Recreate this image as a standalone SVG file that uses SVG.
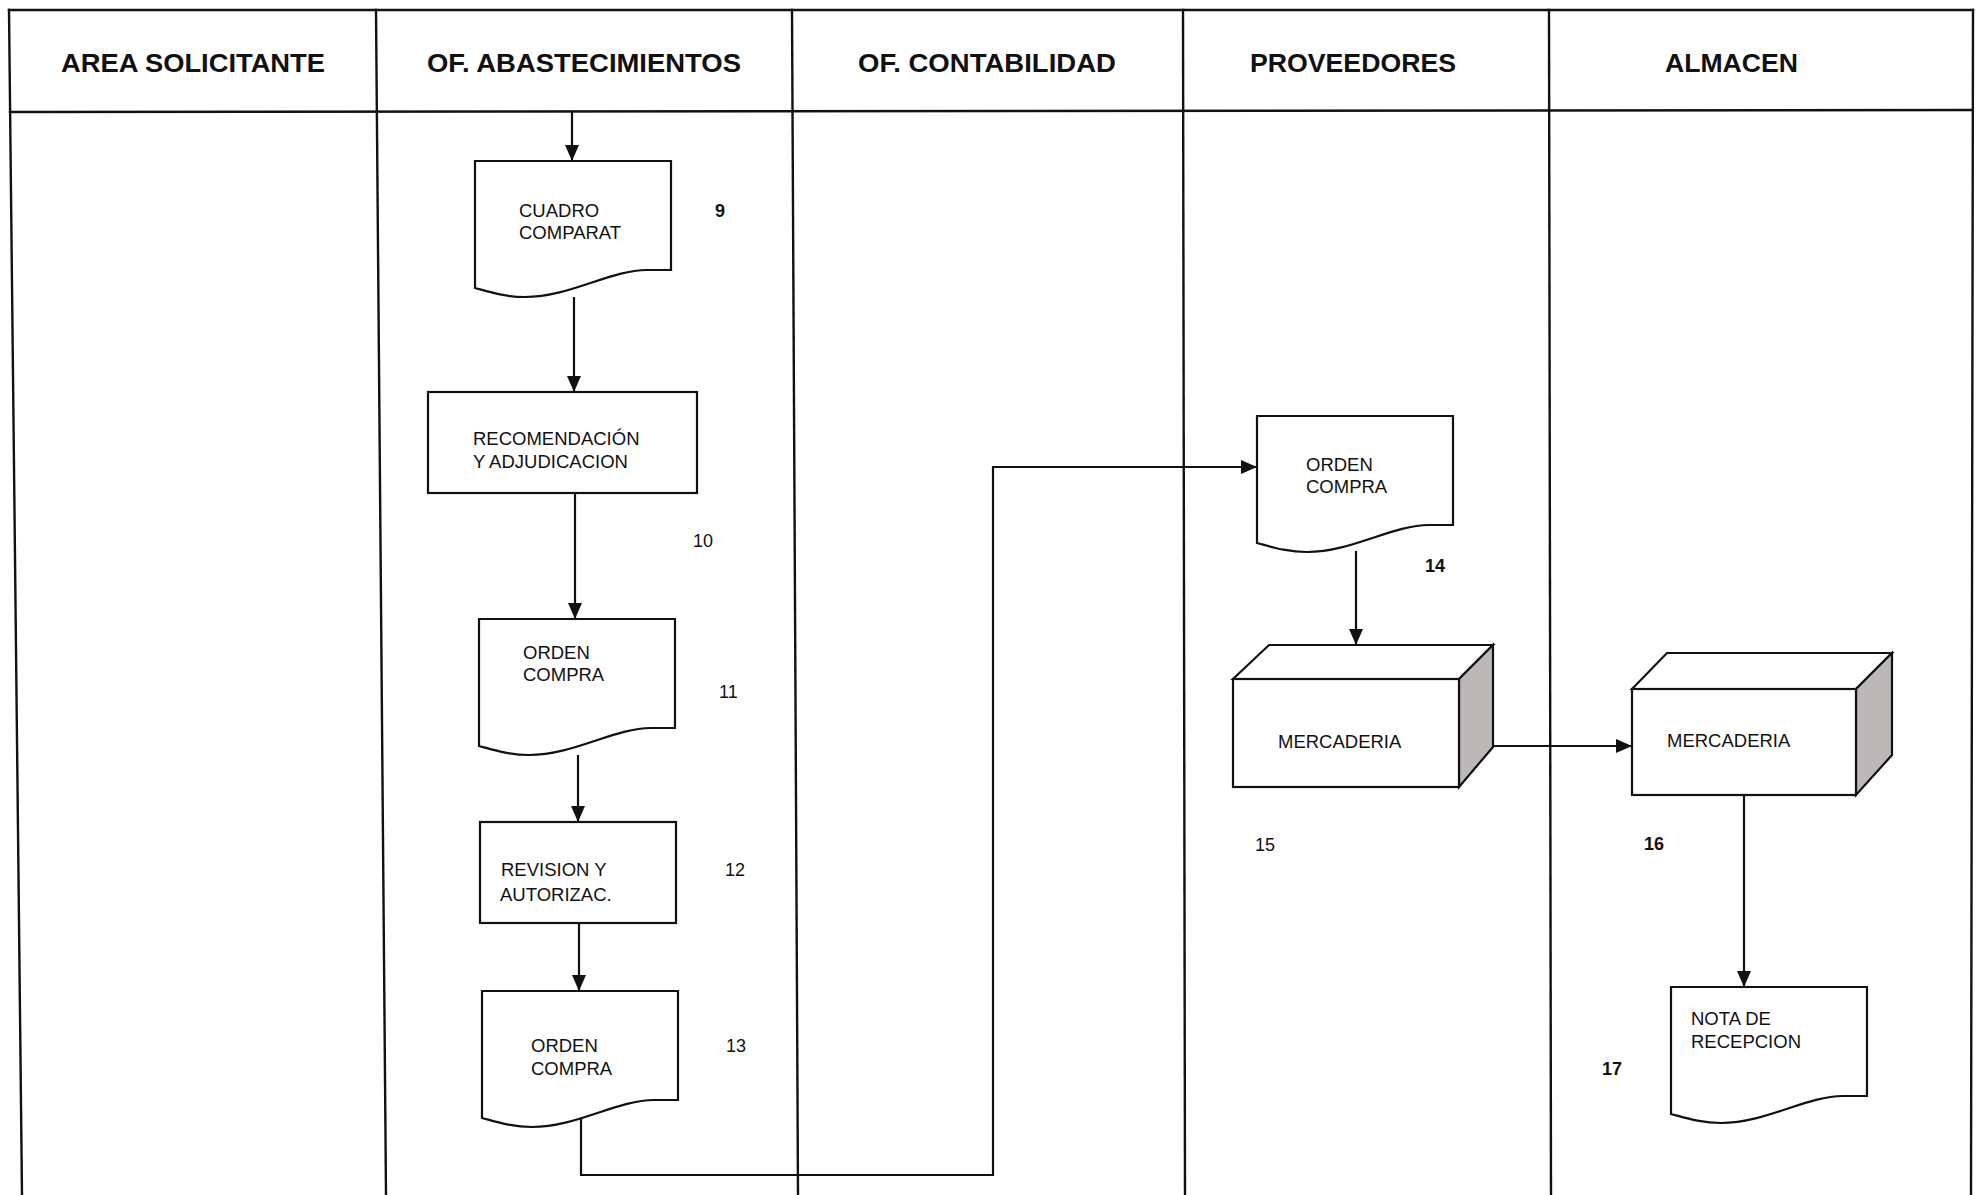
<svg xmlns="http://www.w3.org/2000/svg" xmlns:xlink="http://www.w3.org/1999/xlink" width="1981" height="1195" viewBox="0 0 1981 1195">
  <style>
    .grid { stroke: #111; stroke-width: 2.4; fill: none; stroke-linecap: square; }
    .shape { stroke: #111; stroke-width: 2.2; fill: #fff; stroke-linejoin: miter; }
    .side { stroke: #111; stroke-width: 2.2; fill: #bdb8b8; }
    .conn { stroke: #111; stroke-width: 2.2; fill: none; }
    .head { font-family: "Liberation Sans", Arial, sans-serif; font-weight: bold; font-size: 26px; fill: #111; }
    .lbl { font-family: "Liberation Sans", Arial, sans-serif; font-size: 18.5px; fill: #111; }
    .num { font-family: "Liberation Sans", Arial, sans-serif; font-size: 18px; fill: #111; }
    .numb { font-family: "Liberation Sans", Arial, sans-serif; font-size: 18px; font-weight: bold; fill: #111; }
  </style>
  <defs>
    <marker id="arrow" markerUnits="userSpaceOnUse" markerWidth="16" markerHeight="14" refX="16" refY="7" orient="auto">
      <path d="M0,0 L16,7 L0,14 Z" fill="#111"/>
    </marker>
    <!-- document symbol: flat top, wavy bottom -->
    <path id="doc" d="M0,0 H196 V109 H172 C135,109 95,136 50,136 C30,136 15,131 0,127 Z"/>
  </defs>

  <rect x="0" y="0" width="1981" height="1195" fill="#fff"/>

  <!-- swimlane frame -->
  <g id="lanes">
    <line class="grid" x1="9" y1="10" x2="1973" y2="10"/>
    <line class="grid" x1="10" y1="112" x2="1972" y2="110"/>
    <line class="grid" x1="9" y1="10" x2="22" y2="1195"/>
    <line class="grid" x1="376" y1="10" x2="386" y2="1195"/>
    <line class="grid" x1="792" y1="10" x2="798" y2="1195"/>
    <line class="grid" x1="1183" y1="10" x2="1185" y2="1195"/>
    <line class="grid" x1="1549" y1="10" x2="1551" y2="1195"/>
    <line class="grid" x1="1973" y1="10" x2="1971" y2="1195"/>
    <text class="head" x="61" y="72" textLength="264" lengthAdjust="spacingAndGlyphs">AREA SOLICITANTE</text>
    <text class="head" x="427" y="72" textLength="314" lengthAdjust="spacingAndGlyphs">OF. ABASTECIMIENTOS</text>
    <text class="head" x="858" y="72" textLength="258" lengthAdjust="spacingAndGlyphs">OF. CONTABILIDAD</text>
    <text class="head" x="1250" y="72" textLength="206" lengthAdjust="spacingAndGlyphs">PROVEEDORES</text>
    <text class="head" x="1665" y="72" textLength="133" lengthAdjust="spacingAndGlyphs">ALMACEN</text>
  </g>

  <!-- connectors -->
  <g id="connectors">
    <path class="conn" d="M572,112 V161" marker-end="url(#arrow)"/>
    <path class="conn" d="M574,297 V392" marker-end="url(#arrow)"/>
    <path class="conn" d="M575,493 V619" marker-end="url(#arrow)"/>
    <path class="conn" d="M578,755 V822" marker-end="url(#arrow)"/>
    <path class="conn" d="M579,923 V991" marker-end="url(#arrow)"/>
    <path class="conn" d="M581,1118 V1175 H993 V467 H1257" marker-end="url(#arrow)"/>
    <path class="conn" d="M1356,551 V645" marker-end="url(#arrow)"/>
    <path class="conn" d="M1493,746 H1632" marker-end="url(#arrow)"/>
    <path class="conn" d="M1744,795 V987" marker-end="url(#arrow)"/>
  </g>

  <!-- 9 -->
  <g id="n9">
    <use xlink:href="#doc" href="#doc" class="shape" x="475" y="161"/>
    <text class="lbl" x="519" y="217">CUADRO</text>
    <text class="lbl" x="519" y="239">COMPARAT</text>
    <text class="numb" x="715" y="217">9</text>
  </g>

  <!-- 10 -->
  <g id="n10">
    <rect class="shape" x="428" y="392" width="269" height="101"/>
    <text class="lbl" x="473" y="445">RECOMENDACIÓN</text>
    <text class="lbl" x="473" y="468">Y ADJUDICACION</text>
    <text class="num" x="693" y="547">10</text>
  </g>

  <!-- 11 -->
  <g id="n11">
    <use xlink:href="#doc" href="#doc" class="shape" x="479" y="619"/>
    <text class="lbl" x="523" y="659">ORDEN</text>
    <text class="lbl" x="523" y="681">COMPRA</text>
    <text class="num" x="719" y="698">11</text>
  </g>

  <!-- 12 -->
  <g id="n12">
    <rect class="shape" x="480" y="822" width="196" height="101"/>
    <text class="lbl" x="501" y="876">REVISION Y</text>
    <text class="lbl" x="500" y="901">AUTORIZAC.</text>
    <text class="num" x="725" y="876">12</text>
  </g>

  <!-- 13 -->
  <g id="n13">
    <use xlink:href="#doc" href="#doc" class="shape" x="482" y="991"/>
    <text class="lbl" x="531" y="1052">ORDEN</text>
    <text class="lbl" x="531" y="1075">COMPRA</text>
    <text class="num" x="726" y="1052">13</text>
  </g>

  <!-- 14 -->
  <g id="n14">
    <use xlink:href="#doc" href="#doc" class="shape" x="1257" y="416"/>
    <text class="lbl" x="1306" y="471">ORDEN</text>
    <text class="lbl" x="1306" y="493">COMPRA</text>
    <text class="numb" x="1425" y="572">14</text>
  </g>

  <!-- 15 -->
  <g id="n15">
    <path class="shape" d="M1233,679 L1269,645 H1493 L1459,679 Z"/>
    <path class="side" d="M1459,679 L1493,645 V747 L1459,787 Z"/>
    <rect class="shape" x="1233" y="679" width="226" height="108"/>
    <text class="lbl" x="1278" y="748">MERCADERIA</text>
    <text class="num" x="1255" y="851">15</text>
  </g>

  <!-- 16 -->
  <g id="n16">
    <path class="shape" d="M1632,689 L1667,653 H1892 L1856,689 Z"/>
    <path class="side" d="M1856,689 L1892,653 V755 L1856,795 Z"/>
    <rect class="shape" x="1632" y="689" width="224" height="106"/>
    <text class="lbl" x="1667" y="747">MERCADERIA</text>
    <text class="numb" x="1644" y="850">16</text>
  </g>

  <!-- 17 -->
  <g id="n17">
    <use xlink:href="#doc" href="#doc" class="shape" x="1671" y="987"/>
    <text class="lbl" x="1691" y="1025">NOTA DE</text>
    <text class="lbl" x="1691" y="1048">RECEPCION</text>
    <text class="numb" x="1602" y="1075">17</text>
  </g>
</svg>
